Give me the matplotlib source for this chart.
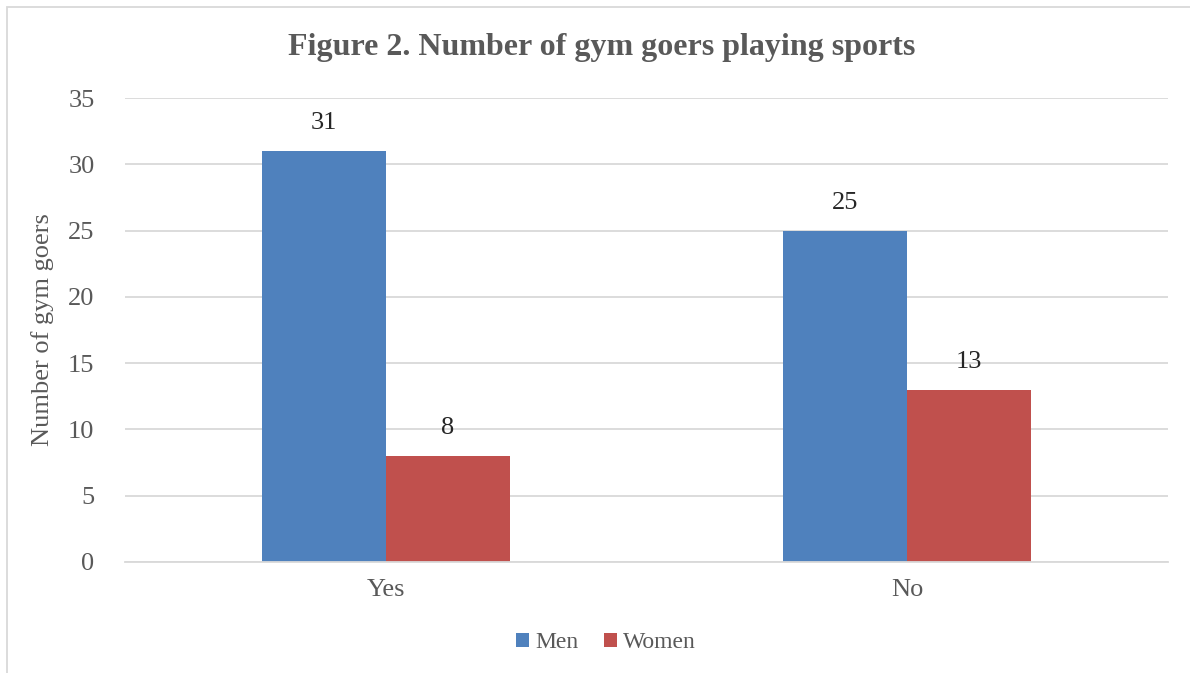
import matplotlib.pyplot as plt
from matplotlib.patches import Rectangle
import numpy as np

categories = ["Yes", "No"]
men = [31, 25]
women = [8, 13]
yticks = [0, 5, 10, 15, 20, 25, 30, 35]

plt.rcParams['font.family'] = ['Liberation Serif', 'DejaVu Serif']
grey = "#595959"
fs = 19

fig = plt.figure(figsize=(11.9, 6.73), dpi=100)
ax = fig.add_axes([125/1190, 1 - 562/673, (1168 - 125)/1190, (562 - 98)/673])

x = np.arange(len(categories))
w = 0.238
b1 = ax.bar(x - w/2, men, w, color="#4F81BD", label="Men")
b2 = ax.bar(x + w/2, women, w, color="#C0504D", label="Women")
ax.bar_label(b1, padding=12, fontsize=fs, color="#262626")
ax.bar_label(b2, padding=12, fontsize=fs, color="#262626")

ax.set_xlim(-0.5, 1.5)
ax.set_ylim(0, 35)
ax.set_yticks(yticks)
ax.set_xticks(x)
ax.set_xticklabels(categories)
ax.tick_params(axis="both", length=0, labelsize=fs, labelcolor=grey)
ax.tick_params(axis="y", pad=22)
ax.tick_params(axis="x", pad=12)
ax.grid(axis="y", color="#D9D9D9", linewidth=1.3)
ax.set_axisbelow(True)
for s in ["top", "right", "left"]:
    ax.spines[s].set_visible(False)
ax.spines["bottom"].set_color("#D9D9D9")
ax.spines["bottom"].set_linewidth(1.3)

ax.set_ylabel("Number of gym goers", fontsize=fs, color=grey, labelpad=10)
fig.text(0.506, 1 - 47/673, "Figure 2. Number of gym goers playing sports",
         ha="center", va="center", fontsize=23, fontweight="bold", color=grey)

ax.legend(loc="center", bbox_to_anchor=(606/1190, 1 - 643/673),
          bbox_transform=fig.transFigure, ncol=2, frameon=False,
          fontsize=17, labelcolor=grey, handlelength=0.55, handleheight=0.55,
          handletextpad=0.25, columnspacing=1.1)

fig.patches.append(Rectangle((7/1190, -0.05), 1.05, 1.05 - 7/673,
                             transform=fig.transFigure, fill=False,
                             edgecolor="#D9D9D9", linewidth=1.3))

fig.savefig("out.png", dpi=100)
